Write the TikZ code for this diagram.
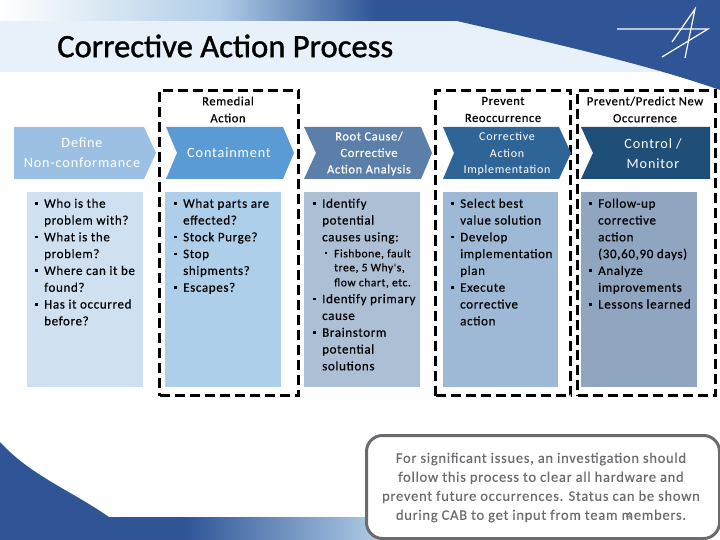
\documentclass[tikz,border=0pt]{standalone}
\usepackage{fontspec}
\setmainfont{Carlito}
\newfontfamily\titf[FakeBold=1.2]{Carlito}
\newfontfamily\bodyf[LetterSpace=5,FakeBold=0.5]{Carlito}
\newfontfamily\chevf[LetterSpace=6]{Carlito}
\newfontfamily\chevg[LetterSpace=5,FakeBold=0.4]{Carlito}
\newfontfamily\notef[LetterSpace=5,FakeBold=0.2]{Carlito}
\usetikzlibrary{calc}
\definecolor{darkb}{HTML}{2F5597}
\definecolor{midb}{HTML}{AFCCE6}
\definecolor{lightband}{HTML}{E8F1F9}
\definecolor{boxgray}{HTML}{6B6B6F}
\definecolor{cha}{HTML}{9CC0E3}
\definecolor{chb}{HTML}{5B9BD5}
\definecolor{chc}{HTML}{5B7FA8}
\definecolor{chd}{HTML}{2F6496}
\definecolor{che}{HTML}{1F4E79}
\definecolor{boa}{HTML}{CFE0F1}
\definecolor{bob}{HTML}{AECFEA}
\definecolor{boc}{HTML}{ADBFD5}
\definecolor{bod}{HTML}{9EB9D5}
\definecolor{boe}{HTML}{90A5BF}
\tikzset{
  chev/.style={text=white,align=center,font=\chevf\fontsize{14.2}{20}\selectfont,inner sep=0pt},
  chevs/.style={text=white,align=center,font=\chevg\fontsize{12.5}{16.5}\selectfont,inner sep=0pt},
  chevt/.style={text=white,align=center,font=\chevf\fontsize{12}{16.5}\selectfont,inner sep=0pt},
  hdr/.style={align=center,font=\bodyf\fontsize{12.5}{17}\selectfont,inner sep=0pt},
  dashbox/.style={draw=black,line width=3pt,dash pattern=on 10pt off 5pt,anchor=north west,inner sep=0pt,minimum height=305pt},
  bodytext/.style={anchor=north west,inner sep=0pt,align=left,font=\bodyf\fontsize{13}{16.8}\selectfont},
  logo/.style={white,line width=1.2pt}
}
\newcommand{\bu}{\makebox[9pt][l]{\rule[3pt]{2.6pt}{2.6pt}}}
\newcommand{\ig}{\hspace*{9pt}}
\newcommand{\sbu}{\hspace*{12pt}\makebox[9pt][l]{\rule[3pt]{2.2pt}{2.2pt}}\fontsize{11.5}{16.8}\selectfont}
\newcommand{\sig}{\hspace*{21pt}\fontsize{11.5}{16.8}\selectfont}
\begin{document}
\begin{tikzpicture}[x=1pt,y=-1pt]
\useasboundingbox (0,0) rectangle (720,540);
\fill[white] (0,0) rectangle (720,540);
% top band
\shade[left color=white,right color=midb] (0,0) rectangle (220,21);
\shade[left color=midb,right color=darkb] (219.5,0) rectangle (376,21);
\fill[darkb] (375,0) rectangle (720,21.2);
\fill[lightband] (0,21) rectangle (660,72);
\fill[darkb] (457,21) .. controls (530,38) and (640,62) .. (720,90) -- (720,21) -- cycle;
% bottom band
\fill[darkb] (0,442) .. controls (30,475) and (70,490) .. (109,517) -- (190,517) -- (190,540) -- (0,540) -- cycle;
\shade[left color=darkb,right color=midb] (185,517) rectangle (380,540);
% title
\node[anchor=west,inner sep=0pt,font=\titf\fontsize{32.6}{36}\selectfont] (title) at (57,46) {Corrective Action Process};
% logo
\coordinate (la) at (617,29); \coordinate (lb) at (708,29);
\coordinate (lc) at (662,57); \coordinate (ld) at (695,9);
\coordinate (le) at (685,58); \coordinate (lf) at (672,42);
\draw[logo] (la) -- (lb) -- (lc);
\draw[logo] (lf) -- (ld) -- (le);
% dashed boxes
\node[dashbox,minimum width=139pt] (d1) at (158,89) {};
\node[dashbox,minimum width=135pt] (d2) at (434,89) {};
\node[dashbox,minimum width=138pt] (d3) at (576,89) {};
% headers
\node[hdr] (h1) at (228,109.5) {Remedial\\Action};
\node[hdr] (h2) at (503,109.5) {Prevent\\Reoccurrence};
\node[hdr] (h3) at (645,109.5) {Prevent/Predict New\\Occurrence};
% chevrons
\fill[cha] (14,127) -- (144,127) -- (156,153) -- (144,179) -- (14,179) -- cycle;
\fill[chb] (166,127) -- (283,127) -- (294,153) -- (283,179) -- (166,179) -- (177,153) -- cycle;
\fill[chc] (304,127) -- (421,127) -- (432,153) -- (421,179) -- (304,179) -- (316,153) -- cycle;
\fill[chd] (443,127) -- (559,127) -- (571,153) -- (559,179) -- (443,179) -- (454,153) -- cycle;
\fill[che] (581,127) -- (710,127) -- (710,179) -- (581,179) -- (593,153) -- cycle;
\node[chev] (c1) at (82,153) {Define\\Non-conformance};
\node[chev] (c2) at (229,153) {Containment};
\node[chevs] (c3) at (369,153.6) {Root Cause/\\Corrective\\Action Analysis};
\node[chevt] (c4) at (507,154) {Corrective\\Action\\Implementation};
\node[chev] (c5) at (653,153.5) {Control /\\Monitor};
% body boxes
\fill[boa] (27,192) rectangle (143,387);
\fill[bob] (165,192) rectangle (281,387);
\fill[boc] (304,192) rectangle (420,387);
\fill[bod] (443,192) rectangle (558,387);
\fill[boe] (581,192) rectangle (697,387);
\node[bodytext] (t1) at (35,198.5) {\bu Who is the\\\ig problem with?\\\bu What is the\\\ig problem?\\\bu Where can it be\\\ig found?\\\bu Has it occurred\\\ig before?};
\node[bodytext] (t2) at (174,198.5) {\bu What parts are\\\ig effected?\\\bu Stock Purge?\\\bu Stop\\\ig shipments?\\\bu Escapes?};
\node[bodytext] (t3) at (313,198.5) {\bu Identify\\\ig potential\\\ig causes using:\\[-0.8pt]\sbu Fishbone, fault\\[-2.8pt]\sig tree, 5 Why's,\\[-1.8pt]\sig flow chart, etc.\\\bu Identify primary\\\ig cause\\\bu Brainstorm\\\ig potential\\\ig solutions};
\node[bodytext] (t4) at (451,198.5) {\bu Select best\\\ig value solution\\\bu Develop\\\ig implementation\\\ig plan\\\bu Execute\\\ig corrective\\\ig action};
\node[bodytext] (t5) at (589,198.5) {\bu Follow-up\\\ig corrective\\\ig action\\\ig (30,60,90 days)\\\bu Analyze\\\ig improvements\\\bu Lessons learned};
% note
\node[draw=boxgray,line width=3pt,fill=white,rounded corners=16pt,anchor=north west,minimum width=353pt,minimum height=103pt,inner sep=0pt] (note) at (365,434) {};
\node[align=center,inner sep=0pt,text=boxgray,font=\notef\fontsize{14.5}{19}\selectfont] (nt) at (541,487.5) {For significant issues, an investigation should\\follow this process to clear all hardware and\\prevent future occurrences. Status can be shown\\during CAB to get input from team members.};
\node[inner sep=0pt,text=boxgray,font=\fontsize{11}{13}\selectfont] (pg) at (629,516) {4};
\end{tikzpicture}
\end{document}
